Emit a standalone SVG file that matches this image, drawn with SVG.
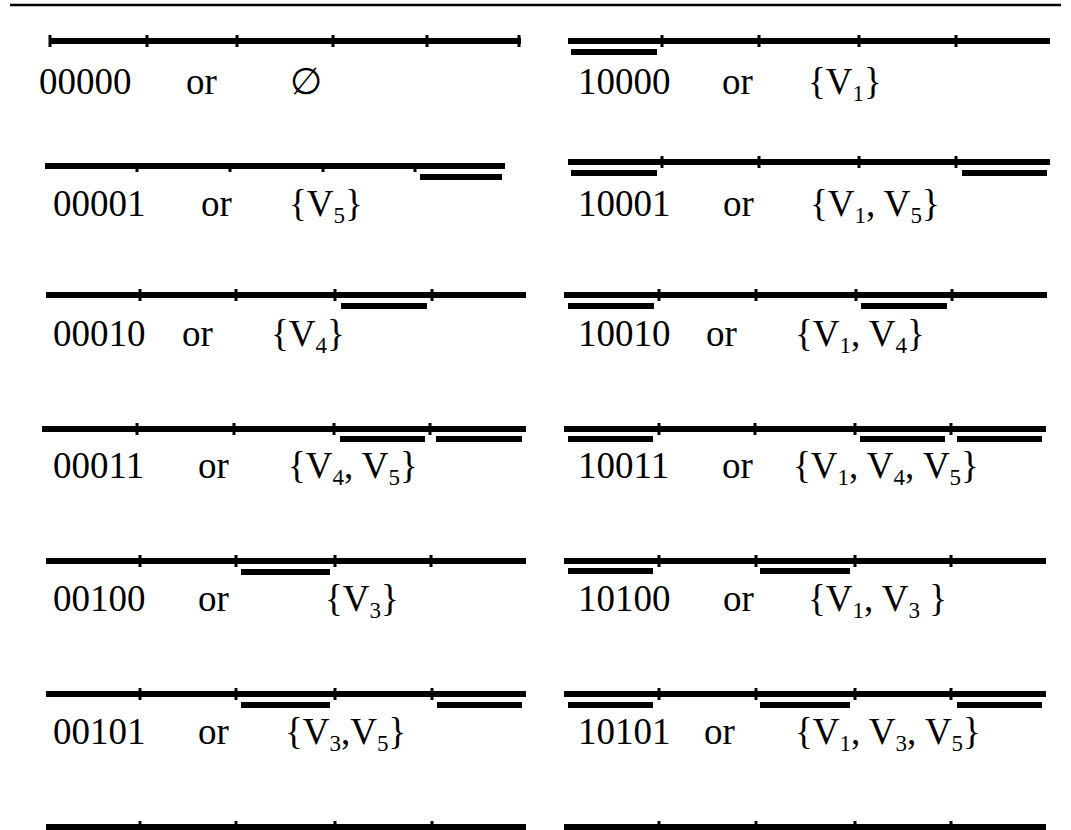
<svg xmlns="http://www.w3.org/2000/svg" width="1071" height="830" viewBox="0 0 1071 830">
<style>
.bg{fill:#fff}
.rule{stroke:#000;stroke-width:2.5}
.ln{stroke:#000;stroke-width:6;fill:none}
.tk{stroke:#000;stroke-width:3}
.ub{stroke:#000;stroke-width:6}
.t{font-family:"Liberation Serif","Times New Roman",serif;font-size:37px;fill:#000}
.s{font-size:23px}
</style>
<rect class="bg" x="0" y="0" width="1071" height="830"/>
<line class="rule" x1="10" y1="5" x2="1061" y2="5"/>

<g id="r1L">
<line class="ln" x1="50" y1="41" x2="521" y2="41"/>
<path class="tk" d="M50 35V47M147 35V47M237 35V47M333 35V47M427 35V47M519 35V47"/>
<text class="t" x="39" y="94">00000</text><text class="t" x="186" y="94">or</text><text class="t" x="290" y="94">∅</text>
</g>
<g id="r1R">
<line class="ln" x1="568" y1="41" x2="1050" y2="41"/>
<path class="tk" d="M662 35V47M759 35V47M859 35V47M956 35V47"/>
<line class="ub" x1="571" y1="52" x2="657" y2="52"/>
<text class="t" x="578" y="94">10000</text><text class="t" x="722" y="94">or</text><text class="t" x="808" y="94">{V<tspan class="s" dy="7">1</tspan><tspan dy="-7">}</tspan></text>
</g>

<g id="r2L">
<line class="ln" x1="45" y1="166" x2="505" y2="166"/>
<path class="tk" d="M137 166V172M230 166V172M323 166V172M415 166V172"/>
<line class="ub" x1="420" y1="177" x2="502" y2="177"/>
<text class="t" x="53" y="216">00001</text><text class="t" x="201" y="216">or</text><text class="t" x="289" y="216">{V<tspan class="s" dy="7">5</tspan><tspan dy="-7">}</tspan></text>
</g>
<g id="r2R">
<line class="ln" x1="568" y1="162" x2="1050" y2="162"/>
<path class="tk" d="M662 156V168M759 156V168M859 156V168M956 156V168"/>
<line class="ub" x1="571" y1="173" x2="657" y2="173"/>
<line class="ub" x1="962" y1="173" x2="1047" y2="173"/>
<text class="t" x="810" y="216">{V<tspan class="s" dy="7">1</tspan><tspan dy="-7">, V</tspan><tspan class="s" dy="7">5</tspan><tspan dy="-7">}</tspan></text>
<text class="t" x="578" y="216">10001</text><text class="t" x="723" y="216">or</text>
</g>

<g id="r3L">
<line class="ln" x1="46" y1="295" x2="526" y2="295"/>
<path class="tk" d="M140 289V301M236 289V301M335 289V301M432 289V301"/>
<line class="ub" x1="341" y1="306" x2="427" y2="306"/>
<text class="t" x="53" y="346">00010</text><text class="t" x="182" y="346">or</text><text class="t" x="271" y="346">{V<tspan class="s" dy="7">4</tspan><tspan dy="-7">}</tspan></text>
</g>
<g id="r3R">
<line class="ln" x1="564" y1="295" x2="1047" y2="295"/>
<path class="tk" d="M659 289V301M756 289V301M856 289V301M952 289V301"/>
<line class="ub" x1="568" y1="306" x2="654" y2="306"/>
<line class="ub" x1="861" y1="306" x2="947" y2="306"/>
<text class="t" x="578" y="346">10010</text><text class="t" x="706" y="346">or</text><text class="t" x="795" y="346">{V<tspan class="s" dy="7">1</tspan><tspan dy="-7">, V</tspan><tspan class="s" dy="7">4</tspan><tspan dy="-7">}</tspan></text>
</g>

<g id="r4L">
<line class="ln" x1="42" y1="429" x2="526" y2="429"/>
<path class="tk" d="M137 423V435M234 423V435M334 423V435M430 423V435"/>
<line class="ub" x1="340" y1="439" x2="425" y2="439"/>
<line class="ub" x1="436" y1="439" x2="522" y2="439"/>
<text class="t" x="53" y="478">00011</text><text class="t" x="198" y="478">or</text><text class="t" x="288" y="478">{V<tspan class="s" dy="7">4</tspan><tspan dy="-7">, V</tspan><tspan class="s" dy="7">5</tspan><tspan dy="-7">}</tspan></text>
</g>
<g id="r4R">
<line class="ln" x1="564" y1="429" x2="1046" y2="429"/>
<path class="tk" d="M659 423V435M755 423V435M855 423V435M951 423V435"/>
<line class="ub" x1="568" y1="439" x2="653" y2="439"/>
<line class="ub" x1="860" y1="439" x2="945" y2="439"/>
<line class="ub" x1="957" y1="439" x2="1042" y2="439"/>
<text class="t" x="578" y="478">10011</text><text class="t" x="722" y="478">or</text><text class="t" x="793" y="478">{V<tspan class="s" dy="7">1</tspan><tspan dy="-7">, V</tspan><tspan class="s" dy="7">4</tspan><tspan dy="-7">, V</tspan><tspan class="s" dy="7">5</tspan><tspan dy="-7">}</tspan></text>
</g>

<g id="r5L">
<line class="ln" x1="46" y1="561" x2="526" y2="561"/>
<path class="tk" d="M140 555V567M236 555V567M335 555V567M431 555V567"/>
<line class="ub" x1="241" y1="572" x2="330" y2="572"/>
<text class="t" x="53" y="611">00100</text><text class="t" x="198" y="611">or</text><text class="t" x="325" y="611">{V<tspan class="s" dy="7">3</tspan><tspan dy="-7">}</tspan></text>
</g>
<g id="r5R">
<line class="ln" x1="564" y1="561" x2="1046" y2="561"/>
<path class="tk" d="M659 555V567M756 555V567M855 555V567M951 555V567"/>
<line class="ub" x1="568" y1="571" x2="653" y2="571"/>
<line class="ub" x1="760" y1="571" x2="850" y2="571"/>
<text class="t" x="578" y="611">10100</text><text class="t" x="723" y="611">or</text><text class="t" x="808" y="611">{V<tspan class="s" dy="7">1</tspan><tspan dy="-7">, V</tspan><tspan class="s" dy="7">3</tspan><tspan dy="-7"> }</tspan></text>
</g>

<g id="r6L">
<line class="ln" x1="46" y1="694" x2="526" y2="694"/>
<path class="tk" d="M140 688V700M236 688V700M335 688V700M432 688V700"/>
<line class="ub" x1="241" y1="705" x2="330" y2="705"/>
<line class="ub" x1="437" y1="705" x2="522" y2="705"/>
<text class="t" x="53" y="744">00101</text><text class="t" x="198" y="744">or</text><text class="t" x="285" y="744">{V<tspan class="s" dy="7">3</tspan><tspan dy="-7">,V</tspan><tspan class="s" dy="7">5</tspan><tspan dy="-7">}</tspan></text>
</g>
<g id="r6R">
<line class="ln" x1="564" y1="694" x2="1046" y2="694"/>
<path class="tk" d="M659 688V700M756 688V700M855 688V700M951 688V700"/>
<line class="ub" x1="568" y1="705" x2="653" y2="705"/>
<line class="ub" x1="760" y1="705" x2="850" y2="705"/>
<line class="ub" x1="957" y1="705" x2="1042" y2="705"/>
<text class="t" x="578" y="744">10101</text><text class="t" x="704" y="744">or</text><text class="t" x="795" y="744">{V<tspan class="s" dy="7">1</tspan><tspan dy="-7">, V</tspan><tspan class="s" dy="7">3</tspan><tspan dy="-7">, V</tspan><tspan class="s" dy="7">5</tspan><tspan dy="-7">}</tspan></text>
</g>

<g id="r7L">
<line class="ln" x1="46" y1="827" x2="526" y2="827"/>
<path class="tk" d="M140 821V833M236 821V833M335 821V833M432 821V833"/>
</g>
<g id="r7R">
<line class="ln" x1="564" y1="827" x2="1046" y2="827"/>
<path class="tk" d="M659 821V833M756 821V833M855 821V833M951 821V833"/>
</g>
</svg>
